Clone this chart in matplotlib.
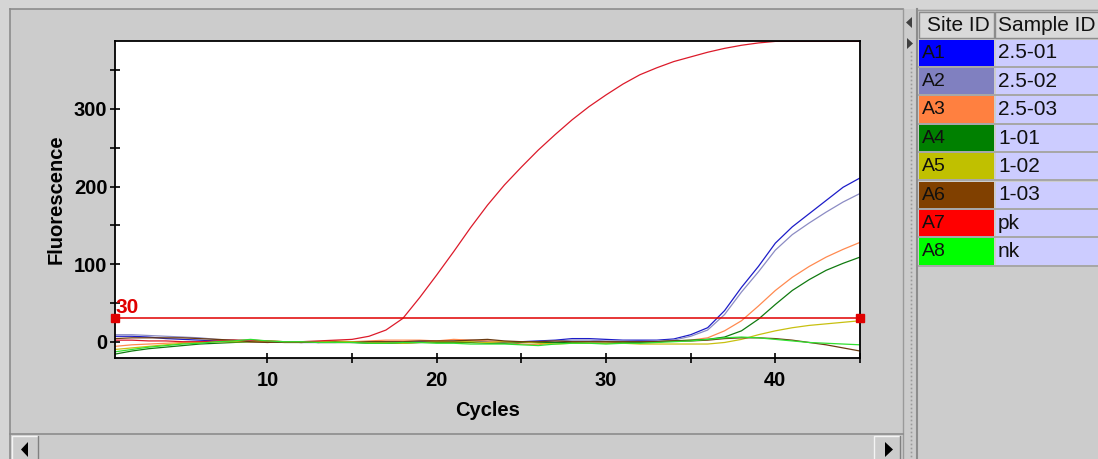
import numpy as np
import matplotlib.pyplot as plt
from matplotlib.patches import Rectangle, Polygon

plt.rcParams['font.family'] = ['Liberation Sans', 'DejaVu Sans']

# --- data ---
cycles = list(range(1, 46))

a1 = [7, 7, 6, 4, 3, 2, 1, 0, 0, 0,
      0, -1, -1, 0, 0, 0, -1, -1, 0, 0,
      0, 1, 0, -1, 0, 1, 2, 4, 4, 3,
      2, 2, 2,
      3.5, 9, 18, 40, 70, 97, 127, 148, 165, 182, 199, 211]
a2 = [9, 9, 8, 7, 6, 5, 3, 2, 1, 0,
      0, 0, -1, -1, 0, 0, 0, -1, -1, 0,
      1, 2, 1, 0, -1, 0, 1, 2, 2, 1,
      1, 0, 1,
      2, 7, 15, 35, 64, 90, 118, 138, 153, 167, 180, 191]
a3 = [-6, -4, -3, -2, -1, 0, 0, 1, 0, 0,
      0, -1, 0, 0, 0, 1, 2, 2, 2, 1,
      3, 2, 1, 0, -3, -4, -1, 0, 0, 0,
      -1, -1, 0, 1,
      2, 5, 14, 27, 46, 66, 83, 97, 109, 119, 128]
a4 = [-16, -12, -9, -7, -5, -3, -2, -1, 0, 0,
      -1, -1, 0, 0, -1, -2, -2, -2, -1, -1,
      -1, -1, -2, -2, -1, -1, -1, -1, -2, -2,
      -1, -1, 0, 1, 2,
      3, 6, 14, 29, 48, 66, 80, 92, 101, 109]
a5 = [-10, -8, -6, -4, -2, -1, 0, 0, 0, 1,
      0, 0, 0, 1, 0, -1, -1, -2, -1, 0,
      0, 0, -1, 0, 0, -2, -3, -2, -2, -2,
      -2, -3, -3, -3,
      -3, -3, -1, 3, 9, 14, 18, 21, 23, 25, 27]
a6 = [4, 5, 5, 5, 5, 4, 3, 2, 0, -1,
      0, 0, -1, -1, -1, 0, 0, 0, 1, 1,
      1, 2, 3, 1, 0, 0, 1, 0, 0, 0,
      0, 0, 0, 1, 1,
      2, 4, 5, 5, 4, 2, -1, -4, -8, -12]
a7 = [2, 2, 1, 1, 0, 0, 1, 2, 2, 1, 0, 0, 1,
      2, 3, 7, 15, 30, 57, 86, 116, 147, 176, 202, 225, 247, 267,
      286, 303, 318, 332, 344, 353, 361, 367, 373, 378, 382, 385,
      387, 387, 387, 387, 387, 387]
a8 = [-13, -10, -7, -5, -3, -2, 0, 1, 3, 1,
      0, 0, -1, -1, -1, -2, -2, -1, -1, -2,
      -2, -3, -3, -3, -4, -5, -3, -2, -2, -3,
      -2, -2, -1, 0, 1, 3,
      5, 6, 5, 3, 1, -1, -2, -3, -4]

series = [a1, a2, a3, a4, a5, a6, a7, a8]
site_ids = ['A1', 'A2', 'A3', 'A4', 'A5', 'A6', 'A7', 'A8']
sample_ids = ['2.5-01', '2.5-02', '2.5-03', '1-01', '1-02', '1-03', 'pk', 'nk']
site_colors = ['#0000ff', '#8080c0', '#ff8040', '#008000',
               '#c0c000', '#804000', '#ff0000', '#00ff00']
# curves look a touch darker than the table swatches
line_colors = ['#1c1cc8', '#8c8cc4', '#ff8a50', '#107a10',
               '#c8c010', '#6a3a10', '#dc1a2a', '#30e030']
threshold = 30

fig = plt.figure(figsize=(10.98, 4.59), dpi=100)
fig.patch.set_facecolor('#cccccc')

# --- window chrome drawn in pixel coordinates ---
ui = fig.add_axes([0, 0, 1, 1], zorder=0)
ui.set_xlim(0, 1098)
ui.set_ylim(459, 0)
ui.axis('off')

ui.add_patch(Rectangle((0, 0), 1098, 9, fc='#d5d5d5', ec='none'))
ui.add_patch(Rectangle((0, 0), 10, 459, fc='#d5d5d5', ec='none'))
ui.plot([10, 10], [9, 459], color='#8c8c8c', lw=1.2)
ui.plot([10, 903], [9, 9], color='#8c8c8c', lw=1.2)
ui.plot([903, 903], [9, 459], color='#9a9a9a', lw=1)
ui.plot([917, 917], [9, 459], color='#8c8c8c', lw=1.5)

# splitter dots and arrows
dots_y = np.arange(52, 459, 4)
ui.plot(np.full(len(dots_y), 910.5), dots_y, ls='none', marker='s', ms=1.2,
        color='#9a9a9a', mew=0)
ui.add_patch(Polygon([[912, 17], [912, 28], [906, 22.5]], fc='#404040', ec='none'))
ui.add_patch(Polygon([[907, 38], [907, 49], [913, 43.5]], fc='#404040', ec='none'))

# horizontal scrollbar
ui.plot([10, 903], [434, 434], color='#8c8c8c', lw=1.2)
for bx in (12, 874):
    ui.add_patch(Rectangle((bx, 436), 26, 25, fc='#cccccc', ec='none'))
    ui.plot([bx, bx, bx + 26], [460, 436, 436], color='#f4f4f4', lw=1)
    ui.plot([bx + 26, bx + 26], [436, 460], color='#808080', lw=1)
ui.add_patch(Polygon([[28, 442], [28, 457], [21, 449.5]], fc='black', ec='none'))
ui.add_patch(Polygon([[885, 442], [885, 457], [893, 449.5]], fc='black', ec='none'))

# table
ui.plot([918, 1098], [10, 10], color='#9a9a9a', lw=1)
ui.add_patch(Rectangle((919, 12), 75, 26, fc='#d9d9d9', ec='#8c8c8c', lw=1))
ui.add_patch(Rectangle((995, 12), 110, 26, fc='#d9d9d9', ec='#8c8c8c', lw=1))
ui.text(927, 25.5, 'Site ID', fontsize=15, va='center', ha='left', color='#111111')
ui.text(998, 25.5, 'Sample ID', fontsize=15, va='center', ha='left', color='#111111')

row_h = 28.4
for i, (sid, smp, col) in enumerate(zip(site_ids, sample_ids, site_colors)):
    top = 39.5 + i * row_h
    ui.add_patch(Rectangle((919, top), 75, row_h - 2.2, fc=col, ec='none'))
    ui.add_patch(Rectangle((996, top), 110, row_h - 2.2, fc='#ccccff', ec='none'))
    ui.plot([919, 1098], [top + row_h - 1.1] * 2, color='#a0a0a0', lw=1.2)
    ui.text(922, top + 13.5, sid, fontsize=14, va='center', ha='left', color='#101010')
    ui.text(998, top + 13.5, smp, fontsize=15, va='center', ha='left', color='#101010')

# --- the amplification plot ---
ax = fig.add_axes([115 / 1098, 1 - 358 / 459, 745 / 1098, 317 / 459], zorder=2)
ax.set_facecolor('white')

for vals, col in zip(series, line_colors):
    ax.plot(cycles, vals, color=col, lw=0.9)

ax.plot([cycles[0], cycles[-1]], [threshold, threshold], color='#e00000', lw=1.1,
        marker='s', ms=6, clip_on=False, zorder=5)
ax.text(cycles[0] + 0.05, 36.5, str(threshold), color='#e00000', fontsize=15,
        fontweight='bold', ha='left', va='baseline', clip_on=False)

ax.set_xlim(1, 45)
ax.set_ylim(-21, 387.5)
ax.set_xticks([10, 20, 30, 40])
ax.set_xticks([15, 25, 35, 45], minor=True)
ax.set_yticks([0, 100, 200, 300])
ax.set_yticks([50, 150, 250, 350], minor=True)

ax.tick_params(axis='both', which='both', direction='inout', length=7, width=1.2,
               color='black')
ax.tick_params(axis='x', which='major', pad=6)
ax.tick_params(axis='y', which='major', pad=2)
for lab in ax.get_xticklabels() + ax.get_yticklabels():
    lab.set_fontweight('bold')
    lab.set_fontsize(14.5)

for sp in ax.spines.values():
    sp.set_linewidth(1.3)
    sp.set_color('black')

ax.set_xlabel('Cycles', fontsize=14.5, fontweight='bold', labelpad=8)
ax.set_ylabel('Fluorescence', fontsize=14.5, fontweight='bold', labelpad=6)

fig.savefig('out.png', dpi=100, facecolor=fig.get_facecolor())
